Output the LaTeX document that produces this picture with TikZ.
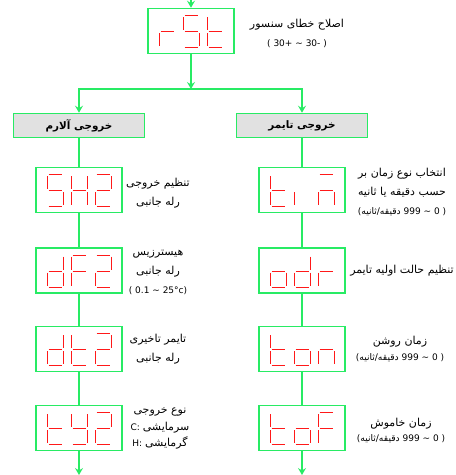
\documentclass[tikz,border=0pt]{standalone}
\usepackage{fontspec}
\setmainfont{DejaVu Sans}
\newfontfamily\farsi[Script=Arabic,Scale=1.22]{DejaVu Sans}
\TeXXeTstate=1
\usetikzlibrary{arrows.meta}
\definecolor{boxgreen}{RGB}{40,235,100}
\definecolor{segred}{RGB}{255,25,25}
\definecolor{headgray}{RGB}{225,225,225}

\newcommand{\fa}[1]{{\farsi\beginR #1\endR}}
\newcommand{\range}{({\farsi\fontsize{7.5}{17}\selectfont\beginR دقیقه/ثانیه\endR} 999 \textasciitilde{} 0 )}
% three seven-segment characters inside a display box
\newcommand{\showdigits}[4]{%
	\begin{scope}[shift={(#1.north west)}]
		\begin{scope}[shift={(12,8)}] \foreach \s in {#2} {\draw[segline, seg \s];} \end{scope}
		\begin{scope}[shift={(36,8)}] \foreach \s in {#3} {\draw[segline, seg \s];} \end{scope}
		\begin{scope}[shift={(60,8)}] \foreach \s in {#4} {\draw[segline, seg \s];} \end{scope}
	\end{scope}}

\begin{document}
\begin{tikzpicture}[x=1pt, y=-1pt,
	dispbox/.style={draw=boxgreen, line width=1.6pt, minimum width=86pt, minimum height=45pt, inner sep=0pt},
	headbox/.style={draw=boxgreen, line width=1.6pt, fill=headgray, minimum width=131pt, minimum height=24pt, inner sep=0pt, font=\farsi\bfseries\fontsize{8.5}{11}\selectfont},
	link/.style={draw=boxgreen, line width=1.6pt},
	arr/.style={link, -{Stealth[length=7pt, width=8pt, inset=2.5pt]}},
	segline/.style={draw=segred, line width=1.3pt},
	note/.style={align=center, inner sep=0pt, font=\fontsize{9}{19}\selectfont},
	seg a/.style={insert path={(1.5,0) -- (14.5,0)}},
	seg b/.style={insert path={(16,1.5) -- (16,14.5)}},
	seg c/.style={insert path={(16,17.5) -- (16,30.5)}},
	seg d/.style={insert path={(1.5,32) -- (14.5,32)}},
	seg e/.style={insert path={(0,17.5) -- (0,30.5)}},
	seg f/.style={insert path={(0,1.5) -- (0,14.5)}},
	seg g/.style={insert path={(1.5,16) -- (14.5,16)}}]
	\useasboundingbox (0,0) rectangle (456,475);

	\node[dispbox] (rst) at (191,31) {};
	\node[headbox] (alarm) at (79,125.5) {\beginR خروجی آلارم\endR};
	\node[headbox] (timer) at (302,125.5) {\beginR خروجی تایمر\endR};
	\node[dispbox] (sh2) at (79,190) {};
	\node[dispbox] (df2) at (79,270.5) {};
	\node[dispbox] (dt2) at (79,349) {};
	\node[dispbox] (ty2) at (79,428) {};
	\node[dispbox] (tim) at (302,190) {};
	\node[dispbox] (odr) at (302,270.5) {};
	\node[dispbox] (ton) at (302,349) {};
	\node[dispbox] (tof) at (302,428) {};

	\showdigits{rst}{e,g}{a,f,g,c,d}{f,e,g,d}
	\showdigits{sh2}{a,f,g,c,d}{b,c,e,f,g}{a,b,g,e,d}
	\showdigits{df2}{b,c,d,e,g}{a,f,g,e}{a,b,g,e,d}
	\showdigits{dt2}{b,c,d,e,g}{f,e,g,d}{a,b,g,e,d}
	\showdigits{ty2}{f,e,g,d}{b,c,d,f,g}{a,b,g,e,d}
	\showdigits{tim}{f,e,g,d}{e}{a,c,e,g}
	\showdigits{odr}{c,d,e,g}{b,c,d,e,g}{e,g}
	\showdigits{ton}{f,e,g,d}{c,d,e,g}{c,e,g}
	\showdigits{tof}{f,e,g,d}{c,d,e,g}{a,f,g,e}

	\node[note] (rstnote) at (297,33) {\fa{اصلاح خطای سنسور}\\( 30+ \textasciitilde{} 30- )};
	\node[note] (sh2note) at (158,193.5) {\fa{تنظیم خروجی}\\\fa{رله جانبی}};
	\node[note] (df2note) at (158,272) {\fa{هیسترزیس}\\\fa{رله جانبی}\\( 0.1 \textasciitilde{} 25°c)};
	\node[note] (dt2note) at (158,349.5) {\fa{تایمر تاخیری}\\\fa{رله جانبی}};
	\node[note, font=\fontsize{9}{16.5}\selectfont] (ty2note) at (160,428.5) {\fa{نوع خروجی}\\C: \fa{سرمایشی}\\H: \fa{گرمایشی}};
	\node[note] (timnote) at (402,192) {\fa{انتخاب نوع زمان بر}\\\fa{حسب دقیقه یا ثانیه}\\\range};
	\node[note] (odrnote) at (402,271) {\fa{تنظیم حالت اولیه تایمر}};
	\node[note, font=\fontsize{9}{16}\selectfont] (tonnote) at (400,349) {\fa{زمان روشن}\\\range};
	\node[note, font=\fontsize{9}{15}\selectfont] (tofnote) at (401,430) {\fa{زمان خاموش}\\\range};

	\coordinate (topin) at (191,0);
	\coordinate (split) at (191,89);
	\coordinate (leftout) at (79,475);
	\coordinate (rightout) at (302,475);
	\draw[arr] (topin) -- (rst);
	\draw[arr] (rst) -- (split);
	\draw[arr] (split) -| (alarm);
	\draw[arr] (split) -| (timer);
	\draw[link] (alarm) -- (sh2) -- (df2) -- (dt2) -- (ty2);
	\draw[link] (timer) -- (tim) -- (odr) -- (ton) -- (tof);
	\draw[arr] (ty2) -- (leftout);
	\draw[arr] (tof) -- (rightout);
\end{tikzpicture}
\end{document}
